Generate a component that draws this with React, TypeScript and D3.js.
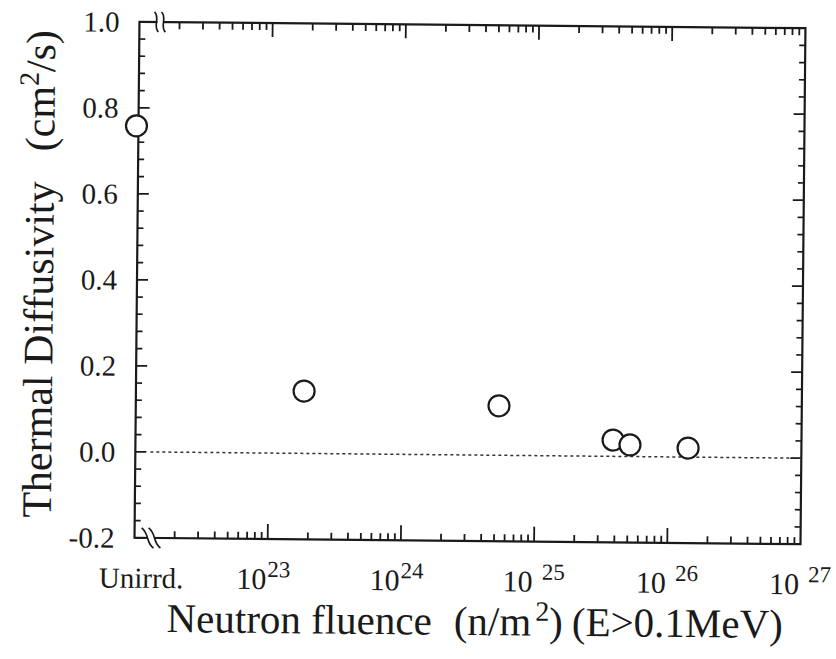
import React, { useRef, useEffect } from 'react';
import * as d3 from 'd3';

// measured points (irradiated samples)
const fluence = [1.83e23, 5.33e24, 3.85e25, 5.16e25, 1.41e26];
const diffusivity = [0.145, 0.115, 0.038, 0.027, 0.021];
// unirradiated reference value, drawn on the left axis
const unirradiated = 0.758;

const yTicks = [-0.2, 0, 0.2, 0.4, 0.6, 0.8, 1.0];
const decades = [23, 24, 25, 26, 27];
const spacedDecades = [25, 26, 27];

const App = () => {
  const ref = useRef<SVGSVGElement>(null);

  useEffect(() => {
    draw();
  }, []);

  const draw = () => {
    const svg = d3.select(ref.current);
    svg.selectAll('*').remove();

    const width = 836;
    const height = 659;
    const margin = { top: 25, right: 33, bottom: 118, left: 137 };
    const left = margin.left;
    const right = width - margin.right;
    const top = margin.top;
    const bottom = height - margin.bottom;

    const x = d3.scaleLog().domain([1e22, 1e27]).range([left, right]);
    const y = d3.scaleLinear().domain([-0.2, 1.0]).range([bottom, top]);

    // the scan is slightly tilted
    const g = svg.append('g').attr('transform', 'rotate(0.55, 471, 281)');

    const ink = '#1a1a1a';
    const tickFont = "'Liberation Serif', 'Times New Roman', serif";

    // x ticks: 1..9 x 10^e for each decade
    const xt: { v: number; major: boolean }[] = [];
    d3.range(22, 27).forEach((e) => {
      d3.range(1, 10).forEach((m) => xt.push({ v: m * Math.pow(10, e), major: m === 1 }));
    });
    xt.filter((t) => t.v > 1.5e22).forEach((t) => {
      g.append('line')
        .attr('x1', x(t.v)).attr('x2', x(t.v))
        .attr('y1', bottom).attr('y2', bottom - (t.major ? 15 : 7))
        .attr('stroke', ink).attr('stroke-width', 1.8);
      g.append('line')
        .attr('x1', x(t.v)).attr('x2', x(t.v))
        .attr('y1', top).attr('y2', top + (t.major ? 14 : 7))
        .attr('stroke', ink).attr('stroke-width', 1.8);
    });

    // y ticks
    const yMinor = d3.range(0, 31).map((i) => -0.2 + i * 0.04);
    yMinor.forEach((v) => {
      const major = yTicks.some((t) => Math.abs(t - v) < 1e-6);
      const len = major ? 11 : 6;
      g.append('line')
        .attr('x1', left).attr('x2', left + len)
        .attr('y1', y(v)).attr('y2', y(v))
        .attr('stroke', ink).attr('stroke-width', 1.7);
      g.append('line')
        .attr('x1', right).attr('x2', right - len)
        .attr('y1', y(v)).attr('y2', y(v))
        .attr('stroke', ink).attr('stroke-width', 1.7);
    });

    // frame
    g.append('rect')
      .attr('x', left).attr('y', top)
      .attr('width', right - left).attr('height', bottom - top)
      .attr('fill', 'none').attr('stroke', ink).attr('stroke-width', 2.2);

    // axis breaks
    const brk = (bx: number, by: number, slant: number) =>
      `M${bx - 2 + slant},${by - 10} C${bx + 4 + slant / 2},${by - 4} ${bx - 4 - slant / 2},${by + 4} ${bx + 2 - slant},${by + 10}`;
    g.append('rect').attr('x', 155).attr('y', top - 2).attr('width', 6).attr('height', 4).attr('fill', '#fff');
    g.append('rect').attr('x', 150).attr('y', bottom - 2).attr('width', 7).attr('height', 4).attr('fill', '#fff');
    [154, 161].forEach((bx) => {
      g.append('path').attr('d', brk(bx, top, 0)).attr('fill', 'none').attr('stroke', ink).attr('stroke-width', 1.7);
    });
    [150, 157].forEach((bx) => {
      g.append('path').attr('d', brk(bx, bottom, -4)).attr('fill', 'none').attr('stroke', ink).attr('stroke-width', 1.7);
    });

    // zero line
    g.append('line')
      .attr('x1', 152).attr('x2', right)
      .attr('y1', y(0)).attr('y2', y(0))
      .attr('stroke', '#333').attr('stroke-width', 1.5)
      .attr('stroke-dasharray', '3,3');

    // y tick labels
    g.selectAll('.ylab')
      .data(yTicks)
      .enter()
      .append('text')
      .attr('class', 'ylab')
      .attr('x', left - 20)
      .attr('y', (d) => y(d))
      .attr('dy', '0.35em')
      .attr('text-anchor', 'end')
      .attr('font-family', tickFont)
      .attr('font-size', 29)
      .attr('fill', ink)
      .text((d) => d.toFixed(1));

    // x tick labels
    g.append('text')
      .attr('x', left + 7).attr('y', 591)
      .attr('text-anchor', 'middle')
      .attr('font-family', tickFont).attr('font-size', 29).attr('fill', ink)
      .text('Unirrd.');

    decades.forEach((e) => {
      const spaced = spacedDecades.includes(e);
      const t = g.append('text')
        .attr('x', x(Math.pow(10, e)) - (spaced ? 0 : 4)).attr('y', 591)
        .attr('text-anchor', 'middle')
        .attr('font-family', tickFont).attr('font-size', 30).attr('fill', ink);
      t.append('tspan').text('10');
      t.append('tspan')
        .attr('dx', spaced ? 9 : 1).attr('dy', -12)
        .attr('font-size', 23)
        .text(String(e));
    });

    // axis titles
    const xTitle = g.append('text')
      .attr('x', 478).attr('y', 635)
      .attr('text-anchor', 'middle')
      .attr('font-family', tickFont).attr('font-size', 41).attr('fill', ink);
    xTitle.append('tspan').text('Neutron fluence');
    xTitle.append('tspan').attr('dx', 22).text('(n/m');
    xTitle.append('tspan').attr('dx', 4).attr('dy', -15).attr('font-size', 28).text('2');
    xTitle.append('tspan').attr('dy', 15).text(')');
    xTitle.append('tspan').attr('dx', 9).text('(E>0.1MeV)');

    const yTitle = g.append('text')
      .attr('transform', 'translate(53, 278) rotate(-90)')
      .attr('text-anchor', 'middle')
      .attr('font-family', tickFont).attr('font-size', 42).attr('fill', ink);
    yTitle.append('tspan').text('Thermal Diffusivity');
    yTitle.append('tspan').attr('dx', 30).text('(cm');
    yTitle.append('tspan').attr('dy', -16).attr('font-size', 28).text('2');
    yTitle.append('tspan').attr('dy', 16).text('/s)');

    // points
    g.append('circle')
      .attr('cx', left - 2).attr('cy', y(unirradiated)).attr('r', 10.5)
      .attr('fill', '#fff').attr('stroke', ink).attr('stroke-width', 2.2);

    g.selectAll('.pt')
      .data(fluence)
      .enter()
      .append('circle')
      .attr('class', 'pt')
      .attr('cx', (d) => x(d))
      .attr('cy', (d, i) => y(diffusivity[i]))
      .attr('r', 10.5)
      .attr('fill', '#fff')
      .attr('stroke', ink)
      .attr('stroke-width', 2.2);
  };

  return (
    <svg
      ref={ref}
      width={836}
      height={659}
      style={{ position: 'absolute', left: 0, top: 0, background: '#fff' }}
    />
  );
};

export default App;
